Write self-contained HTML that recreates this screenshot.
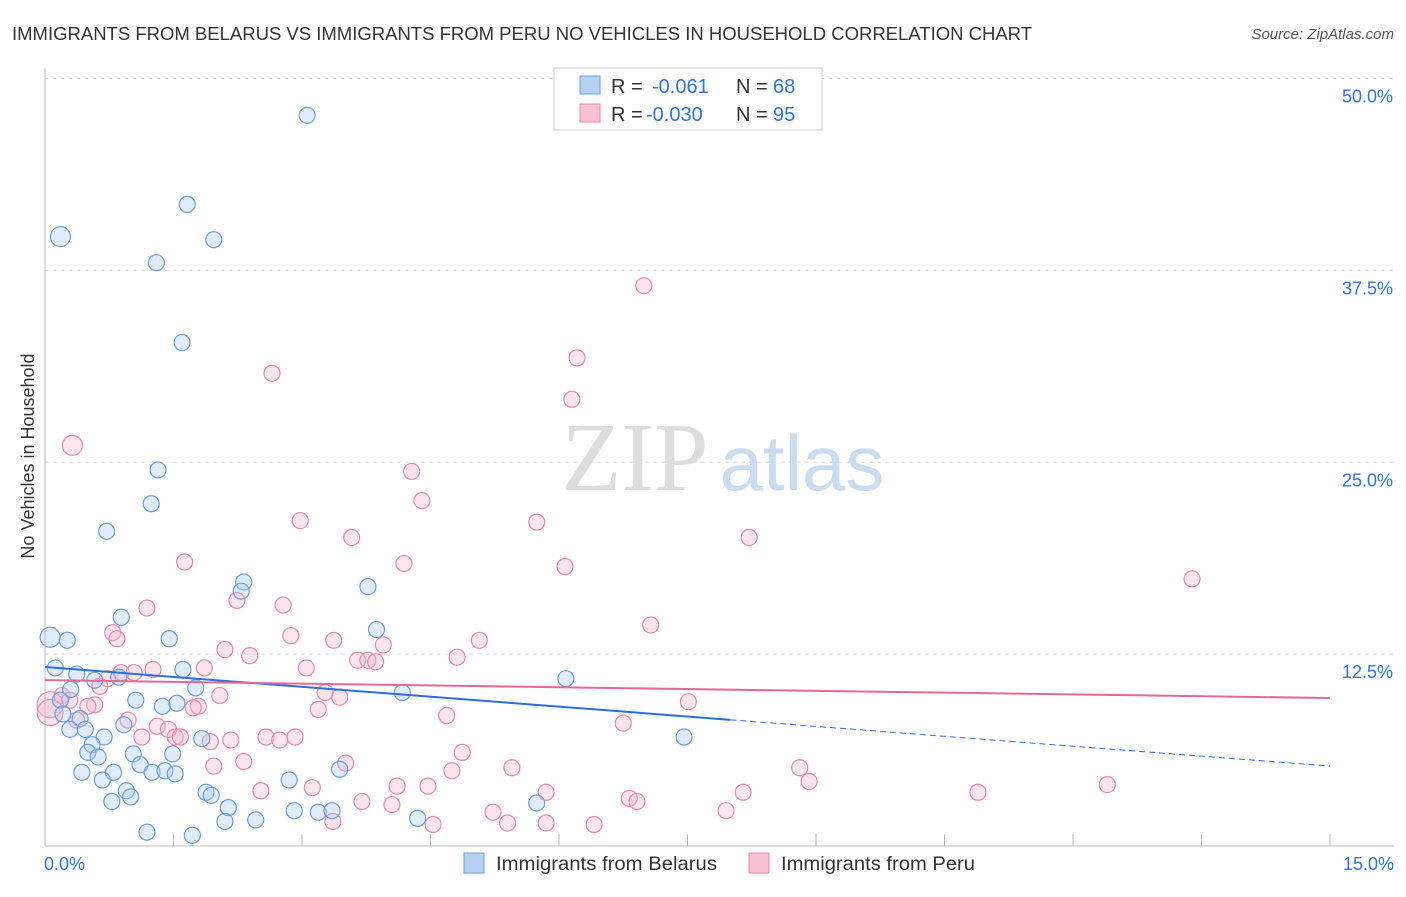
<!DOCTYPE html>
<html><head><meta charset="utf-8"><style>
body{margin:0;background:#fff;width:1406px;height:892px;overflow:hidden;font-family:"Liberation Sans",sans-serif}
</style></head><body>
<svg width="1406" height="892" xmlns="http://www.w3.org/2000/svg">
<text x="12" y="40" font-size="18" fill="#333" textLength="1020" lengthAdjust="spacingAndGlyphs">IMMIGRANTS FROM BELARUS VS IMMIGRANTS FROM PERU NO VEHICLES IN HOUSEHOLD CORRELATION CHART</text>
<text x="1394" y="39" font-size="15" fill="#555" font-style="italic" text-anchor="end">Source: ZipAtlas.com</text>
<text x="34" y="456" font-size="18" fill="#333" text-anchor="middle" transform="rotate(-90 34 456)">No Vehicles in Household</text>
<g id="grid"></g>
<g>
<text x="635" y="490" font-size="98" fill="#ddd" font-family="Liberation Serif,serif" text-anchor="middle">ZIP</text>
<text x="802" y="490" font-size="78" fill="#c9dcf0" text-anchor="middle">atlas</text>
</g>
<g id="pts"></g>
<g id="lines"></g>
<rect x="554" y="68" width="268" height="62" fill="#fff" stroke="#ccc"/>
<rect x="580" y="76" width="20" height="18" fill="#b7d1f3" stroke="#6a9fe0"/>
<rect x="580" y="104" width="20" height="18" fill="#f7c1d2" stroke="#e98aa9"/>
<g font-size="20" fill="#333">
<text x="611" y="93">R =</text><text x="652" y="93" fill="#3574d4">-0.061</text><text x="736" y="93">N =</text><text x="773" y="93" fill="#3574d4">68</text></g>
<g font-size="20" fill="#333">
<text x="611" y="121">R =</text><text x="646" y="121" fill="#3574d4">-0.030</text><text x="736" y="121">N =</text><text x="773" y="121" fill="#3574d4">95</text></g>
<text x="44" y="870" font-size="18" fill="#3574d4">0.0%</text>
<text x="1394" y="870" font-size="18" fill="#3574d4" text-anchor="end">15.0%</text>
<rect x="464" y="853" width="20" height="20" fill="#b7d1f3" stroke="#6a9fe0"/>
<text x="496" y="870" font-size="19" fill="#333" textLength="221" lengthAdjust="spacingAndGlyphs">Immigrants from Belarus</text>
<rect x="749" y="853" width="20" height="20" fill="#f7c1d2" stroke="#e98aa9"/>
<text x="781" y="870" font-size="19" fill="#333" textLength="194" lengthAdjust="spacingAndGlyphs">Immigrants from Peru</text>
</svg>
<script>
const yTicks=[12.5,25,37.5,50];
const yTickLabels=["12.5%","25.0%","37.5%","50.0%"];
const belX=[3.06,0.18,1.66,1.97,1.30,1.60,1.32,1.24,0.72,2.32,2.29,3.77,0.89,0.06,0.26,1.45,3.87,0.12,0.37,1.61,0.58,0.86,0.30,1.76,4.17,6.08,1.06,1.37,1.54,0.18,0.21,0.41,0.29,0.47,0.92,0.69,0.55,0.50,0.62,1.83,1.03,1.49,7.46,1.11,0.43,0.80,1.25,1.40,1.52,3.44,0.67,2.85,0.95,1.88,1.94,1.00,0.78,2.14,2.91,3.19,3.35,5.74,2.46,2.10,4.35,1.19,1.72];
const belY=[47.6,39.7,41.8,39.5,38.0,32.8,24.5,22.3,20.5,17.2,16.6,16.9,14.9,13.6,13.4,13.5,14.1,11.6,11.2,11.5,10.8,11.0,10.2,10.3,10.0,10.9,9.5,9.1,9.3,9.5,8.6,8.3,7.6,7.6,7.9,7.1,6.6,6.1,5.8,7.0,6.0,6.0,7.1,5.3,4.8,4.8,4.8,4.9,4.7,5.0,4.3,4.3,3.6,3.5,3.3,3.2,2.9,2.5,2.3,2.2,2.3,2.8,1.7,1.6,1.8,0.9,0.7];
const perX=[6.99,6.21,2.65,6.15,0.32,4.28,4.40,2.98,5.74,3.58,8.22,4.19,6.07,1.63,13.39,2.24,1.19,2.78,7.07,0.79,0.84,2.87,3.37,5.07,3.95,2.10,2.39,4.81,3.65,3.77,3.86,1.86,3.05,0.89,1.04,1.26,0.73,0.64,3.27,3.44,2.04,0.06,0.20,0.29,0.58,0.50,1.79,1.73,7.51,3.19,4.69,0.37,0.97,1.31,1.44,6.75,1.52,1.58,1.13,1.93,2.17,2.58,2.74,2.92,4.87,3.51,2.32,1.97,4.75,5.45,8.81,8.92,12.40,3.12,4.11,4.47,2.52,5.85,8.15,10.89,3.70,4.05,6.82,6.91,5.23,7.95,3.36,5.40,5.85,6.41,4.53,0.06];
const perY=[36.5,31.8,30.8,29.1,26.1,24.4,22.5,21.2,21.1,20.1,20.1,18.4,18.2,18.5,17.4,16.0,15.5,15.7,14.4,13.9,13.5,13.7,13.4,13.4,13.1,12.8,12.4,12.3,12.1,12.1,12.0,11.6,11.6,11.3,11.3,11.5,10.9,10.4,10.0,9.7,9.8,9.2,9.8,9.5,9.2,9.1,9.1,9.0,9.4,8.9,8.5,8.2,8.2,7.8,7.6,8.0,7.1,7.1,7.1,6.8,6.9,7.1,6.9,7.1,6.1,5.4,5.5,5.2,4.9,5.1,5.1,4.2,4.0,3.8,3.9,3.9,3.6,3.5,3.5,3.5,2.9,2.7,3.1,2.9,2.2,2.3,1.6,1.5,1.5,1.4,1.4,8.7];
const belTrend=[11.66,5.21], belSolidEnd=8.0;
const perTrend=[10.81,9.64];
const X=v=>45+v/15*1285, Y=v=>846-v*15.35;
const NS="http://www.w3.org/2000/svg";
function mk(t,a,p){const e=document.createElementNS(NS,t);for(const k in a)e.setAttribute(k,a[k]);p.appendChild(e);return e;}
const g=document.getElementById('grid');
yTicks.forEach((t,i)=>{
 const l=mk('line',{x1:45,x2:1394,y1:Y(t),y2:Y(t),stroke:'#ddd','stroke-dasharray':'4,4'},g);
 
 
 const tx=mk('text',{x:1393,y:Y(t)+24,'font-size':18,fill:'#3574d4','text-anchor':'end'},g);
 tx.textContent=yTickLabels[i];
 
 
});
const ax=mk('line',{x1:45,x2:1394,y1:846,y2:846,stroke:'#bbb'},g);


const ay=mk('line',{x1:45,x2:45,y1:68,y2:846,stroke:'#bbb'},g);


for(let i=0;i<=10;i++){const tk=mk('line',{x1:X(i*1.5),x2:X(i*1.5),y1:846,y2:834,stroke:'#bbb'},g);
 
 }
const pg=document.getElementById('pts');
perX.forEach((v,i)=>{const big=(i==4||i==41||i==91);
 const c=mk('circle',{cx:X(v),cy:Y(perY[i]),r:big?(i==4?10:13):8,fill:'rgba(247,180,202,0.35)',stroke:'#e98aa9','stroke-width':1.2},pg);
 
 });
belX.forEach((v,i)=>{const big=(i==1||i==13);
 const c=mk('circle',{cx:X(v),cy:Y(belY[i]),r:big?10:8,fill:'rgba(170,200,240,0.35)',stroke:'#6a9fe0','stroke-width':1.2},pg);
 
 });
const lg=document.getElementById('lines');
const bAt=x=>belTrend[0]+(belTrend[1]-belTrend[0])*x/15;
const b1=mk('line',{x1:X(0),y1:Y(bAt(0)),x2:X(belSolidEnd),y2:Y(bAt(belSolidEnd)),stroke:'#2d6fd6','stroke-width':2},lg);


const b2=mk('line',{x1:X(belSolidEnd),y1:Y(bAt(belSolidEnd)),x2:X(15),y2:Y(bAt(15)),stroke:'#2d6fd6','stroke-width':1,'stroke-dasharray':'6,4'},lg);


const p1=mk('line',{x1:X(0),y1:Y(perTrend[0]),x2:X(15),y2:Y(perTrend[1]),stroke:'#e4699a','stroke-width':2},lg);


</script>
</body></html>
